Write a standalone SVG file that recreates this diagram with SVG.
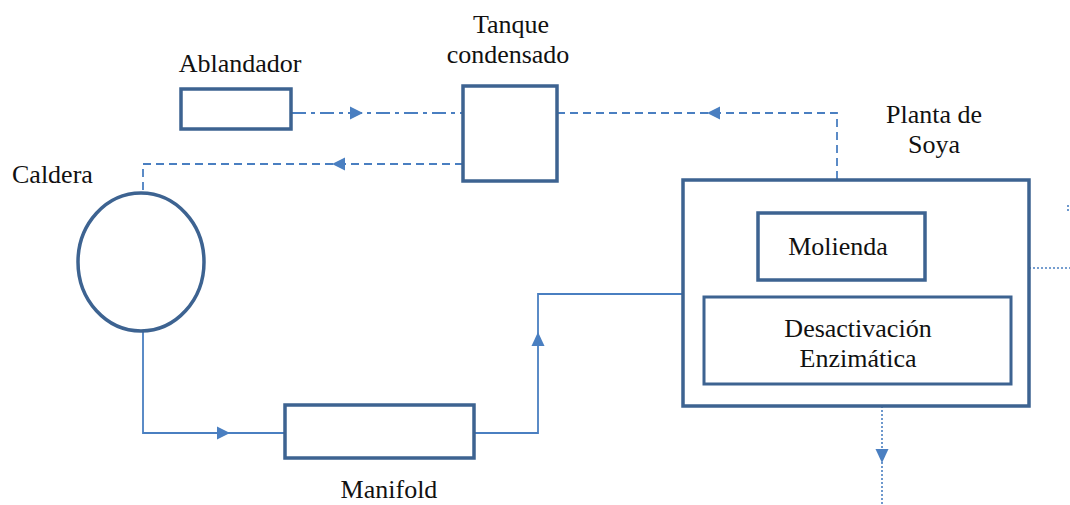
<svg xmlns="http://www.w3.org/2000/svg" width="1070" height="505" viewBox="0 0 1070 505">
<style>
.box{fill:#fff;stroke:#3d6391;stroke-width:3.5}
.ln{fill:none;stroke:#4a7fc1;stroke-width:1.8}
.dd{stroke-dasharray:14 5 4 5}
.da{stroke-dasharray:8 5}
.dt{stroke-dasharray:2 2;stroke-width:1.6}
.ah{fill:#4a7fc1;stroke:none}
text{font-family:"Liberation Serif","Times New Roman",serif;font-size:26px;fill:#111}
.c{text-anchor:middle}
</style>
<rect width="1070" height="505" fill="#fff"/>
<g id="connectors">
  <path class="ln dd" d="M292,113 H463"/>
  <polygon class="ah" points="363,113 350,106.5 350,119.5"/>
  <path class="ln da" d="M463,164 H143 V193"/>
  <polygon class="ah" points="332,164 345,157.5 345,170.5"/>
  <path class="ln" d="M143,332 V433 H285"/>
  <polygon class="ah" points="230,433 217,426.5 217,439.5"/>
  <path class="ln" d="M474,433 H538 V294 H683"/>
  <polygon class="ah" points="538,332 531.5,346 544.5,346"/>
  <path class="ln da" d="M837,179 V113 H557"/>
  <polygon class="ah" points="707,113 720,106.5 720,119.5"/>
  <path class="ln dt" d="M882,406 V505"/>
  <polygon class="ah" points="882,463 875.5,449 888.5,449"/>
  <path class="ln dt" d="M1029,268 H1070"/>
  <path class="ln dt" d="M1068,205 V212"/>
</g>
<g id="ablandador">
  <rect class="box" x="181" y="89" width="110" height="40"/>
  <text class="c" x="240" y="72">Ablandador</text>
</g>
<g id="tanque">
  <rect class="box" x="463" y="86" width="94" height="95"/>
  <text class="c" x="511" y="33">Tanque</text>
  <text class="c" x="508" y="63">condensado</text>
</g>
<g id="caldera">
  <ellipse class="box" cx="141" cy="262" rx="63" ry="69"/>
  <text x="12" y="183">Caldera</text>
</g>
<g id="manifold">
  <rect class="box" x="285" y="405" width="189" height="53"/>
  <text class="c" x="389" y="498">Manifold</text>
</g>
<g id="planta">
  <rect class="box" x="683" y="180" width="346" height="226"/>
  <text class="c" x="934" y="123">Planta de</text>
  <text class="c" x="934" y="153">Soya</text>
</g>
<g id="molienda">
  <rect class="box" x="758" y="213" width="167" height="67"/>
  <text class="c" x="838" y="255">Molienda</text>
</g>
<g id="desactivacion">
  <rect class="box" x="704" y="297" width="307" height="87" style="stroke-width:3"/>
  <text class="c" x="858" y="337">Desactivación</text>
  <text class="c" x="858" y="367">Enzimática</text>
</g>
</svg>
